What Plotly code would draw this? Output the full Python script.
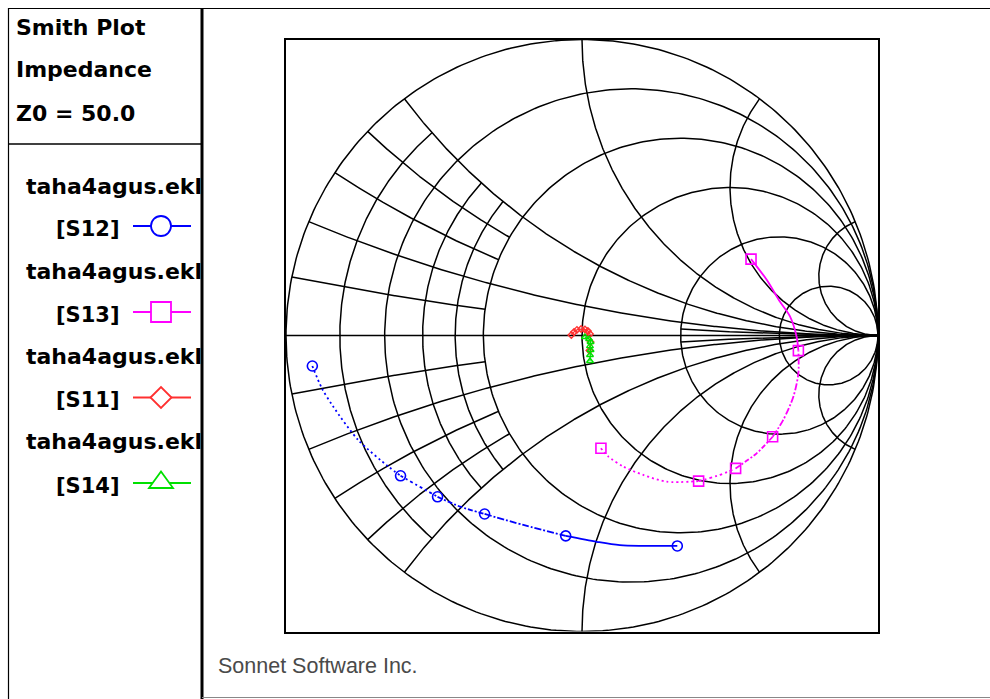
import numpy as np
import plotly.graph_objects as go

W, H = 990, 699

# ---------------- S-parameter data (reflection plane, real / imag) ----------------
s12_re = [-0.911, -0.879, -0.840, -0.756, -0.654, -0.613, -0.488, -0.412, -0.329,
          -0.198, -0.055, 0.050, 0.128, 0.322]
s12_im = [-0.103, -0.178, -0.241, -0.353, -0.443, -0.474, -0.545, -0.578, -0.603,
          -0.640, -0.677, -0.697, -0.708, -0.711]
s12_marks = [0, 5, 6, 8, 10, 13]

s13_re = [0.064, 0.089, 0.140, 0.207, 0.286, 0.394, 0.466, 0.519, 0.590, 0.644,
          0.680, 0.714, 0.731, 0.731, 0.725, 0.703, 0.669, 0.624, 0.571]
s13_im = [-0.381, -0.409, -0.443, -0.471, -0.494, -0.492, -0.471, -0.449, -0.398, -0.342,
          -0.285, -0.207, -0.128, -0.051, -0.004, 0.064, 0.114, 0.188, 0.258]
s13_marks = [0, 5, 7, 9, 13, 18]

s11_re = [0.025, 0.029, 0.027, 0.020, 0.010, -0.003, -0.017, -0.027, -0.036]
s11_im = [-0.051, -0.022, 0.005, 0.015, 0.020, 0.022, 0.019, 0.012, 0.002]

s14_re = [0.010, 0.024, 0.029, 0.027, 0.029, 0.027, 0.027]
s14_im = [-0.005, -0.012, -0.022, -0.036, -0.049, -0.066, -0.086]

file_name = "taha4agus.ekl"
param_names = ["[S12]", "[S13]", "[S11]", "[S14]"]
header_lines = ["Smith Plot", "Impedance", "Z0 = 50.0"]
footer_text = "Sonnet Software Inc."

# ---------------- Smith grid values ----------------
R_FULL = [0, 0.2, 0.5, 1, 2, 5]          # complete resistance circles
R_FINE = [0.1, 0.3, 0.4]                 # resistance arcs limited to |x| <= 0.5
X_FULL = [0.2, 0.5, 1, 2, 5]             # complete reactance arcs (both signs)
X_FINE = [0.3, 0.4]                      # reactance arcs limited to r <= 0.5
X_SPLIT = [0.1]                          # reactance arcs for r <= 0.5 and r >= 2

BLUE, MAGENTA, RED, GREEN = "#0000ff", "#ff00ff", "#ff3030", "#00e000"


def gamma(z):
    return (z - 1) / (z + 1)


def r_arc(r, x_lo, x_hi, n=361):
    c, rho = r / (1 + r), 1 / (1 + r)

    def ang(x):
        if np.isinf(x):
            return 0.0 if x > 0 else 2 * np.pi
        return float(np.mod(np.angle(gamma(complex(r, x)) - c), 2 * np.pi))

    phi = np.linspace(ang(x_hi), ang(x_lo), n)
    p = c + rho * np.exp(1j * phi)
    return p.real, p.imag


def x_arc(x, r_lo, r_hi, n=361):
    s, ax = np.sign(x), abs(x)
    cc, rho = complex(1, 1 / ax), 1 / ax

    def ang(r):
        if np.isinf(r):
            return 1.5 * np.pi
        return float(np.mod(np.angle(gamma(complex(r, ax)) - cc), 2 * np.pi))

    psi = np.linspace(ang(r_lo), ang(r_hi), n)
    p = cc + rho * np.exp(1j * psi)
    return p.real, s * p.imag


gx, gy = [], []


def add(seg):
    gx.extend(list(seg[0]) + [None])
    gy.extend(list(seg[1]) + [None])


inf = np.inf
for r in R_FULL:
    add(r_arc(r, -inf, inf))
for r in R_FINE:
    add(r_arc(r, -0.5, 0.5))
for x in X_FULL:
    add(x_arc(x, 0, inf))
    add(x_arc(-x, 0, inf))
for x in X_FINE:
    add(x_arc(x, 0, 0.5))
    add(x_arc(-x, 0, 0.5))
for x in X_SPLIT:
    for sx in (x, -x):
        add(x_arc(sx, 0, 0.5))
        add(x_arc(sx, 2, inf))
add(([-1, 1], [0, 0]))

fig = go.Figure()
fig.add_trace(go.Scatter(x=gx, y=gy, mode="lines", line=dict(color="black", width=1.5),
                         hoverinfo="skip", showlegend=False))

# dash pattern per segment between successive markers
seg_dash = ["2px,3px", "3px,3px,2px,3px", "5px,2px,2px,2px", "7px,2px,2px,2px", "solid"]


def add_series(re, im, marks, color, symbol, size):
    for k in range(len(marks) - 1):
        a, b = marks[k], marks[k + 1]
        fig.add_trace(go.Scatter(x=re[a:b + 1], y=im[a:b + 1], mode="lines",
                                 line=dict(color=color, width=1.8, dash=seg_dash[k],
                                           shape="spline", smoothing=0.8),
                                 hoverinfo="skip", showlegend=False))
    fig.add_trace(go.Scatter(x=[re[i] for i in marks], y=[im[i] for i in marks],
                             mode="markers",
                             marker=dict(symbol=symbol, size=size, color=color,
                                         line=dict(color=color, width=1.6)),
                             showlegend=False))


add_series(s12_re, s12_im, s12_marks, BLUE, "circle-open", 10)
add_series(s13_re, s13_im, s13_marks, MAGENTA, "square-open", 10)

fig.add_trace(go.Scatter(x=s11_re, y=s11_im, mode="lines+markers",
                         line=dict(color=RED, width=1.2),
                         marker=dict(symbol="diamond-open", size=5, color=RED,
                                     line=dict(color=RED, width=1.4)),
                         showlegend=False))
fig.add_trace(go.Scatter(x=s14_re, y=s14_im, mode="lines+markers",
                         line=dict(color=GREEN, width=1.2),
                         marker=dict(symbol="triangle-up-open", size=6, color=GREEN,
                                     line=dict(color=GREEN, width=1.4)),
                         showlegend=False))


def px(v):
    return v / W


def py(v):
    return 1 - v / H


# ---------------- panel frame ----------------
shapes = []


def hline(x0, x1, y, color="black", width=1):
    shapes.append(dict(type="line", xref="paper", yref="paper", x0=px(x0), x1=px(x1),
                       y0=py(y), y1=py(y), line=dict(color=color, width=width)))


def vline(x, y0, y1, color="black", width=1):
    shapes.append(dict(type="line", xref="paper", yref="paper", x0=px(x), x1=px(x),
                       y0=py(y0), y1=py(y1), line=dict(color=color, width=width)))


hline(8, 990, 8.5, width=1.2)
vline(8.5, 8, 699, width=1.2)
vline(202, 8, 699, width=3)
hline(8, 202, 144, width=1.5)
hline(202, 990, 697.5, color="#888888", width=1)

# ---------------- legend glyphs ----------------
leg_y = [226, 312, 397.5, 483]
leg_col = [BLUE, MAGENTA, RED, GREEN]
for i, (yy, col) in enumerate(zip(leg_y, leg_col)):
    shapes.append(dict(type="line", xref="paper", yref="paper", x0=px(133), x1=px(191),
                       y0=py(yy), y1=py(yy), line=dict(color=col, width=1.8)))
    if i == 0:
        shapes.append(dict(type="circle", xref="paper", yref="paper", x0=px(151), x1=px(171),
                           y0=py(yy + 10), y1=py(yy - 10), fillcolor="white",
                           line=dict(color=col, width=1.8)))
    elif i == 1:
        shapes.append(dict(type="rect", xref="paper", yref="paper", x0=px(151), x1=px(171),
                           y0=py(yy + 10), y1=py(yy - 10), fillcolor="white",
                           line=dict(color=col, width=1.8)))
    elif i == 2:
        path = (f"M {px(150.5)} {py(yy)} L {px(161)} {py(yy - 10.5)} "
                f"L {px(171.5)} {py(yy)} L {px(161)} {py(yy + 10.5)} Z")
        shapes.append(dict(type="path", xref="paper", yref="paper", path=path,
                           fillcolor="white", line=dict(color=col, width=1.8)))
    else:
        path = (f"M {px(149)} {py(yy + 5)} L {px(161)} {py(yy - 11.5)} "
                f"L {px(173)} {py(yy + 5)} Z")
        shapes.append(dict(type="path", xref="paper", yref="paper", path=path,
                           fillcolor="white", line=dict(color=col, width=1.8)))

# ---------------- texts ----------------
ann = []
bold = dict(family="DejaVu Sans", size=22, color="black", weight="bold")
for t, yc in zip(header_lines, [27, 70, 113]):
    ann.append(dict(text=t, xref="paper", yref="paper", x=px(14), y=py(yc),
                    xanchor="left", yanchor="middle", showarrow=False, font=bold))
for i, name in enumerate(param_names):
    ann.append(dict(text=file_name, xref="paper", yref="paper", x=px(24), y=py(186 + 85 * i),
                    xanchor="left", yanchor="middle", showarrow=False, font=bold))
    ann.append(dict(text=name, xref="paper", yref="paper", x=px(54), y=py(leg_y[i] + 2.5),
                    xanchor="left", yanchor="middle", showarrow=False,
                    font=dict(family="DejaVu Sans", size=21, color="black", weight="bold")))
ann.append(dict(text=footer_text, xref="paper", yref="paper", x=px(216), y=py(666),
                xanchor="left", yanchor="middle", showarrow=False,
                font=dict(family="Liberation Sans", size=21.5, color="#4a4a4a")))

axis_common = dict(range=[-1, 1], showgrid=False, zeroline=False, showticklabels=False,
                   ticks="", showline=True, mirror=True, linecolor="black", linewidth=1.8,
                   fixedrange=True)

fig.update_layout(
    width=W, height=H,
    margin=dict(l=0, r=0, t=0, b=0),
    paper_bgcolor="white", plot_bgcolor="white",
    xaxis=dict(domain=[286 / W, 878 / W], **axis_common),
    yaxis=dict(domain=[1 - 631.5 / H, 1 - 39.5 / H], **axis_common),
    shapes=shapes,
    annotations=ann,
    showlegend=False,
)

fig.write_html("out.html")
